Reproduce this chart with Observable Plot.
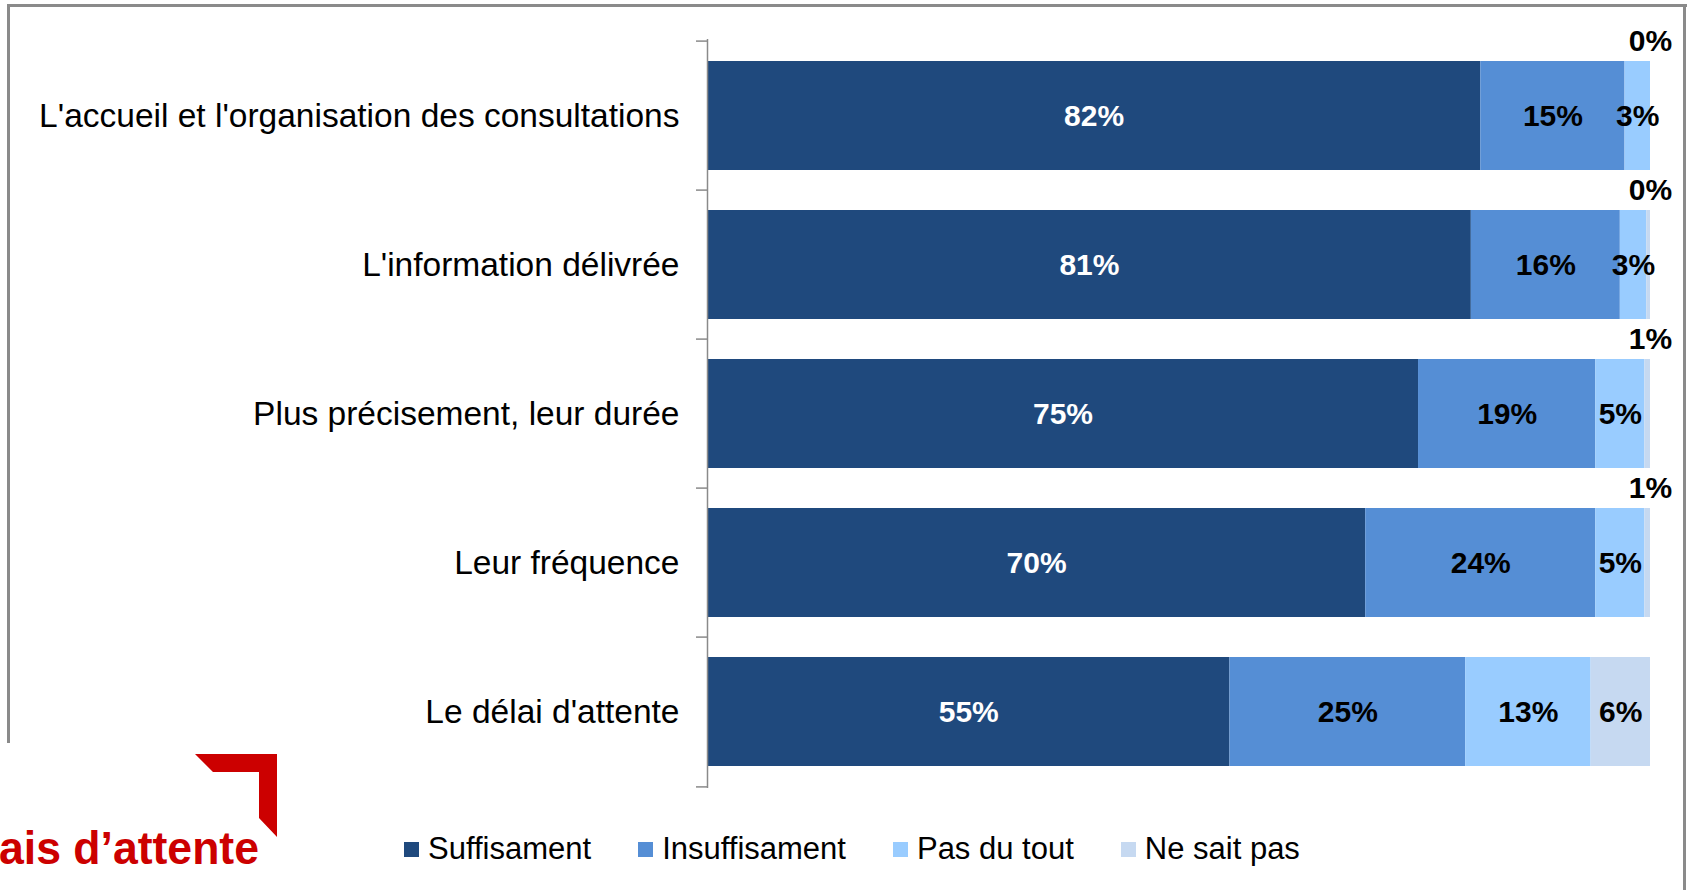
<!DOCTYPE html>
<html><head><meta charset="utf-8">
<script src="https://cdn.jsdelivr.net/npm/d3@7"></script>
<script src="https://cdn.jsdelivr.net/npm/@observablehq/plot@0.6"></script>
<style>
body{margin:0;background:#fff;font-family:Arial,"Liberation Sans",sans-serif;}
#wrap{position:relative;width:1689px;height:890px;overflow:hidden;background:#fff;}
#chart{position:absolute;left:0;top:0;}
.frame{position:absolute;background:#8a8a8a;}
#legend{position:absolute;left:404px;top:831px;display:flex;align-items:center;font-size:31px;color:#000;white-space:nowrap;}
#legend .item{display:flex;align-items:center;margin-right:47px;}
#legend .sw{width:15px;height:15px;margin-right:9px;}
#deco{position:absolute;left:0;top:0;}
</style></head><body>
<div id="wrap">
  <div class="frame" style="left:7px;top:4px;width:1680px;height:3px"></div>
  <div class="frame" style="left:7px;top:4px;width:3px;height:739px"></div>
  <div class="frame" style="left:1683px;top:4px;width:3px;height:886px"></div>
  <div id="chart"></div>
  <div id="legend"></div>
  <svg id="deco" width="300" height="890">
    <polygon points="195,754 277,754 277,837 259,818 259,772 213,772" fill="#cc0000"/>
    <text x="-1" y="864" textLength="260" lengthAdjust="spacingAndGlyphs" font-family="Arial, 'Liberation Sans', sans-serif" font-weight="bold" font-size="46" fill="#cc0000">ais d’attente</text>
  </svg>
</div>
<script>
const categories = [
  "L'accueil et l'organisation des consultations",
  "L'information délivrée",
  "Plus précisement, leur durée",
  "Leur fréquence",
  "Le délai d'attente"
];
const series = ["Suffisament", "Insuffisament", "Pas du tout", "Ne sait pas"];
const colors = ["#1f497d", "#558ed5", "#99ccff", "#c6d9f1"];
// values; labels show them rounded
const suffisament   = [82.0, 81.0, 75.4, 69.8, 55.4];
const insuffisament = [15.3, 15.8, 18.8, 24.4, 25.0];
const pasDuTout     = [2.7, 2.8, 5.2, 5.2, 13.3];
const neSaitPas     = [0, 0.4, 0.6, 0.6, 6.3];

const seriesValues = [suffisament, insuffisament, pasDuTout, neSaitPas];
const rows = [];
categories.forEach((c, i) => {
  seriesValues.forEach((arr, j) => rows.push({category: c, series: series[j], value: arr[i]}));
});
const lbl = d => Math.round(d.value) + "%";

const chart = Plot.plot({
  width: 1689, height: 800,
  marginLeft: 707, marginRight: 39, marginTop: 39, marginBottom: 12,
  x: {domain: [0, 1], axis: null},
  y: {domain: categories, paddingInner: 0.266, paddingOuter: 0.133, label: null},
  color: {domain: series, range: colors},
  style: {fontFamily: "Arial, 'Liberation Sans', sans-serif", background: "transparent", overflow: "visible"},
  marks: [
    Plot.barX(rows, Plot.stackX({x: "value", y: "category", fill: "series", offset: "normalize"})),
    Plot.axisY({tickSize: 0, tickPadding: 28, fontSize: 33.5, fill: "#000"}),
    Plot.ruleX([0], {stroke: "#8a8a8a", strokeWidth: 1.5}),
    Plot.ruleY(categories, {y: d => d, dy: -74.9, x1: -11 / 943, x2: 0, stroke: "#8a8a8a", strokeWidth: 1.5}),
    Plot.ruleY([categories[categories.length - 1]], {y: d => d, dy: 74.9, x1: -11 / 943, x2: 0, stroke: "#8a8a8a", strokeWidth: 1.5}),
    Plot.text(rows, Plot.stackX({x: "value", y: "category", z: "series", offset: "normalize",
      text: d => d.series === series[0] ? lbl(d) : "", fill: "#fff", fontSize: 30, fontWeight: "bold"})),
    Plot.text(rows, Plot.stackX({x: "value", y: "category", z: "series", offset: "normalize",
      text: d => d.series !== series[0] && d.value >= 2 ? lbl(d) : "", fill: "#000", fontSize: 30, fontWeight: "bold"})),
    Plot.text(rows, Plot.stackX2({x: "value", y: "category", z: "series", offset: "normalize",
      text: d => d.value < 2 ? lbl(d) : "", fill: "#000", fontSize: 30, fontWeight: "bold", dy: -75}))
  ]
});
document.getElementById("chart").appendChild(chart);

const legend = document.getElementById("legend");
series.forEach((s, i) => {
  const item = document.createElement("div");
  item.className = "item";
  const sw = document.createElement("span");
  sw.className = "sw";
  sw.style.background = colors[i];
  const t = document.createElement("span");
  t.textContent = s;
  item.appendChild(sw); item.appendChild(t);
  legend.appendChild(item);
});
</script>
</body></html>
